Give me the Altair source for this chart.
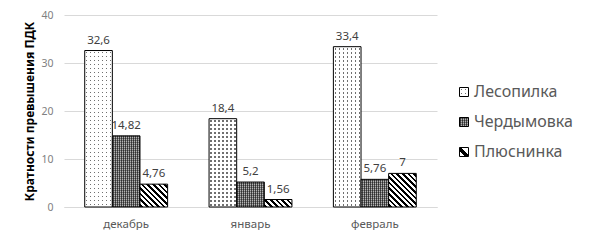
import math
import altair as alt
import pandas as pd

# ---- data ----
months = ["декабрь", "январь", "февраль"]
series = ["Лесопилка", "Чердымовка", "Плюснинка"]
lesopilka = [32.6, 18.4, 33.4]
cherdymovka = [14.82, 5.2, 5.76]
plyusninka = [4.76, 1.56, 7]
y_ticks = [0, 10, 20, 30, 40]
y_title = "Кратности превышения ПДК"

FONT = "Noto Sans"
W, H = 373, 192
YMAX = 40
BAR_W = W / 3 * (2 / 3) / 3


def fmt(v):
    return ("%g" % v).replace(".", ",")


rows = []
for s, vals in zip(series, [lesopilka, cherdymovka, plyusninka]):
    for m, v in zip(months, vals):
        rows.append({"month": m, "series": s, "value": v, "label": fmt(v)})
df = pd.DataFrame(rows)


def band_stops(length, period, on_w, on, off, offset=0.0):
    stops = [{"offset": 0, "color": off}]
    k = 0
    while True:
        a = (offset + k * period) / length
        b = (offset + k * period + on_w) / length
        if a >= 1:
            break
        a = max(a, 0.0)
        b = min(b, 1.0)
        stops += [
            {"offset": round(a, 5), "color": off},
            {"offset": round(a, 5), "color": on},
            {"offset": round(b, 5), "color": on},
            {"offset": round(b, 5), "color": off},
        ]
        k += 1
    stops.append({"offset": 1, "color": off})
    return stops


def vgrad(length, period, on_w, on, off, offset=0.0):
    return {"gradient": "linear", "x1": 0, "y1": 0, "x2": 1, "y2": 0,
            "stops": band_stops(length, period, on_w, on, off, offset)}


def hgrad(length, period, on_w, on, off, offset=0.0):
    return {"gradient": "linear", "x1": 0, "y1": 0, "x2": 0, "y2": 1,
            "stops": band_stops(length, period, on_w, on, off, offset)}


def diag(w, h, period, on_w, on, off, offset=0.0):
    # 45-degree "\" stripes in pixel space for a w x h box
    S = 1 / h ** 2 + 1 / w ** 2
    k = (w + h) / (w * h * S)
    return {"gradient": "linear", "x1": 0, "y1": 1,
            "x2": round(k / h, 5), "y2": round(1 - k / w, 5),
            "stops": band_stops(w + h, period, on_w, on, off, offset)}


def fills(s, w, h, leg=False):
    if s == series[0]:
        return [
            (vgrad(w, 4, 1.4, "#707070", "#ffffff", 1.2), False),
            (hgrad(h, 4, 1.4, "rgba(255,255,255,0)", "#ffffff", 1.5), True),
        ]
    if s == series[1]:
        return [
            (vgrad(w, 2, 1, "#4a4a4a", "#b4b4b4", 0.5), False),
            (hgrad(h, 2, 1, "rgba(0,0,0,0.35)", "rgba(0,0,0,0)", 0.5), True),
        ]
    if leg:
        return [(diag(w, h, 30, 4.5, "#000000", "#ffffff", 5.8), True)]
    return [(diag(w, h, 5.6, 2.6, "#000000", "#ffffff", 1.0), True)]


X = alt.X("month:N", sort=months, title=None,
          scale=alt.Scale(domain=months, paddingInner=1 / 3, paddingOuter=1 / 6),
          axis=alt.Axis(labelAngle=0, ticks=False, labelPadding=11, domain=True,
                        domainColor="#d9d9d9", labelColor="#595959",
                        labelFontSize=11.5, labelFont=FONT, grid=False))
XO = alt.XOffset("series:N", sort=series,
                 scale=alt.Scale(domain=series, paddingInner=0, paddingOuter=0))
Y = alt.Y("value:Q", title=y_title,
          scale=alt.Scale(domain=[0, YMAX], nice=False),
          axis=alt.Axis(values=y_ticks, ticks=False, domain=False, labelPadding=11,
                        labelColor="#808080", labelFontSize=10.5, labelFont=FONT,
                        titleFont=FONT, titleFontSize=12, titleFontWeight="bold",
                        titleColor="#000000", titlePadding=4,
                        grid=True, gridColor="#d9d9d9", gridWidth=1))

layers = []
for s, vals in zip(series, [lesopilka, cherdymovka, plyusninka]):
    for m, v in zip(months, vals):
        h = v / YMAX * H
        for fill, stroked in fills(s, BAR_W, h):
            props = dict(fill=fill, opacity=1)
            if stroked:
                props.update(stroke="#000000", strokeWidth=1)
            else:
                props.update(strokeWidth=0)
            layers.append(
                alt.Chart(df)
                .transform_filter((alt.datum.series == s) & (alt.datum.month == m))
                .mark_bar(**props)
                .encode(x=X, xOffset=XO, y=Y)
            )

labels = alt.Chart(df).mark_text(
    baseline="bottom", dy=-5, fontSize=11.5, color="#404040", font=FONT
).encode(x=X, xOffset=XO, y=Y, text="label:N")
layers.append(labels)

main = alt.layer(*layers).properties(width=W, height=H)

# ---- manual legend ----
leg_df = pd.DataFrame({"series": series, "idx": list(range(len(series)))})
FIRST, GAP = 77, 30
LY = alt.Y("idx:Q", axis=None,
           scale=alt.Scale(domain=[-FIRST / GAP, (H - FIRST) / GAP], reverse=True,
                           nice=False, zero=False))
leg_layers = []
for s in series:
    for fill, stroked in fills(s, 9, 9, leg=True):
        props = dict(fill=fill, opacity=1, size=81)
        if stroked:
            props.update(stroke="#000000", strokeWidth=1)
        else:
            props.update(strokeWidth=0)
        leg_layers.append(
            alt.Chart(leg_df).transform_filter(alt.datum.series == s)
            .mark_square(**props).encode(x=alt.value(7), y=LY)
        )
leg_layers.append(
    alt.Chart(leg_df).mark_text(align="left", baseline="middle", fontSize=16,
                                color="#595959", font=FONT)
    .encode(x=alt.value(17), y=LY, text="series:N")
)
legend = alt.layer(*leg_layers).properties(width=110, height=H)

chart = alt.hconcat(main, legend, spacing=20, bounds="flush").properties(
    padding={"left": 15, "top": 2, "right": 0, "bottom": 0},
    background="white",
).configure_view(stroke=None)

chart.save("out.html", embed_options={"renderer": "svg", "actions": False})
